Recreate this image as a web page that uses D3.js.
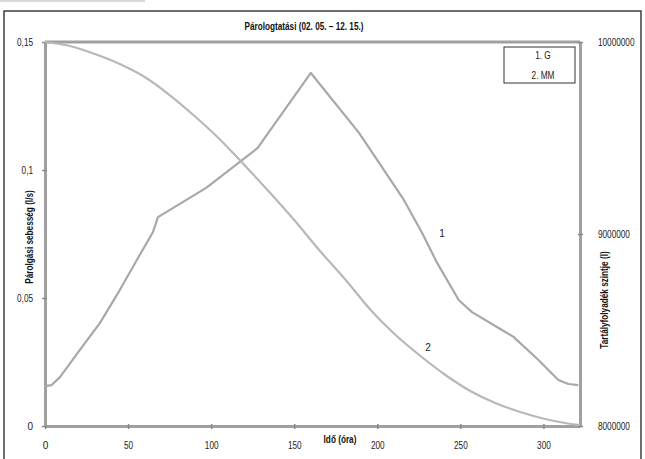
<!DOCTYPE html>
<html>
<head>
<meta charset="utf-8">
<script src="https://cdn.jsdelivr.net/npm/d3@7"></script>
<style>
  body { margin: 0; background: #fff; }
  svg { font-family: "Liberation Sans", Arial, sans-serif; }
</style>
</head>
<body>
<div id="chart"></div>
<script>
// data
const hours1 = [0, 4, 9, 21, 33, 45, 57, 65, 68, 97, 128, 160, 189, 216, 227, 236, 249, 257, 273, 282, 297, 309, 315, 321];
const rate = [0.0156, 0.016, 0.0191, 0.0297, 0.0402, 0.0531, 0.0668, 0.0758, 0.0816, 0.093, 0.1086, 0.1379, 0.1145, 0.0883, 0.0754, 0.0637, 0.0492, 0.0445, 0.0383, 0.0348, 0.0258, 0.018, 0.0164, 0.016];
const hours2 = [0, 15, 30, 45, 60, 75, 90, 105, 120, 135, 150, 165, 181, 196, 211, 226, 241, 256, 271, 286, 301, 313, 322];
const level = [10000000, 9979200, 9937500, 9885400, 9817700, 9723900, 9614600, 9494800, 9359400, 9218800, 9072900, 8916700, 8760400, 8604200, 8474000, 8364600, 8265600, 8182300, 8119800, 8072900, 8036500, 8015600, 8005200];
const xTicks = [0, 50, 100, 150, 200, 250, 300];
const leftTicks = [0, 0.05, 0.1, 0.15];
const rightTicks = [8000000, 9000000, 10000000];
const legendLabels = ["1. G", "2. MM"];

const width = 645, height = 459;
const margin = {left: 45, right: 65, top: 42, bottom: 33};

const svg = d3.select("#chart").append("svg")
    .attr("width", width)
    .attr("height", height);

// scanned page bits: faint line at top, frame
svg.append("line")
    .attr("x1", 0).attr("x2", 145).attr("y1", 1).attr("y2", 1)
    .attr("stroke", "#ccc").attr("stroke-width", 1.5);
svg.append("rect")
    .attr("x", 4).attr("y", 11)
    .attr("width", 637).attr("height", 460)
    .attr("fill", "none").attr("stroke", "#222").attr("stroke-width", 1.3);

const x = d3.scaleLinear().domain([0, 322]).range([margin.left, width - margin.right]);
const yL = d3.scaleLinear().domain([0, 0.15]).range([height - margin.bottom, margin.top]);
const yR = d3.scaleLinear().domain([8000000, 10000000]).range([height - margin.bottom, margin.top]);

const huFmt = d3.formatLocale({decimal: ",", thousands: "", grouping: [3], currency: ["", ""]}).format("~g");

const axisColor = "#a0a0a0";

function styleAxis(g) {
    g.select(".domain").attr("stroke", axisColor).attr("stroke-width", 3);
    g.selectAll(".tick line").attr("stroke", "#888").attr("stroke-width", 1.5);
    g.selectAll(".tick text").attr("fill", "#222").style("font-size", "10px");
}

// top border line of plot
svg.append("line")
    .attr("x1", margin.left).attr("x2", width - margin.right)
    .attr("y1", margin.top).attr("y2", margin.top)
    .attr("stroke", axisColor).attr("stroke-width", 3);

const gx = svg.append("g")
    .attr("transform", `translate(0,${height - margin.bottom})`)
    .call(d3.axisBottom(x).tickValues(xTicks).tickSizeInner(3).tickSizeOuter(0).tickPadding(13))
    .call(styleAxis);
gx.selectAll(".tick line").attr("y1", -2);

const gl = svg.append("g")
    .attr("transform", `translate(${margin.left},0)`)
    .call(d3.axisLeft(yL).tickValues(leftTicks).tickFormat(huFmt).tickSizeInner(3).tickSizeOuter(0).tickPadding(9))
    .call(styleAxis);
gl.selectAll(".tick line").attr("x1", 2);

const gr = svg.append("g")
    .attr("transform", `translate(${width - margin.right},0)`)
    .call(d3.axisRight(yR).tickValues(rightTicks).tickFormat(d3.format("d")).tickSizeInner(3).tickSizeOuter(0).tickPadding(15))
    .call(styleAxis);
gr.selectAll(".tick line").attr("x1", -2);

// series
const line1 = d3.line()
    .x((d, i) => x(hours1[i]))
    .y(d => yL(d));
const line2 = d3.line()
    .x((d, i) => x(hours2[i]))
    .y(d => yR(d))
    .curve(d3.curveMonotoneX);

svg.append("path")
    .attr("d", line1(rate))
    .attr("fill", "none")
    .attr("stroke", "#a8a8a8")
    .attr("stroke-width", 2.2)
    .attr("stroke-linejoin", "round");
svg.append("path")
    .attr("d", line2(level))
    .attr("fill", "none")
    .attr("stroke", "#b8b8b8")
    .attr("stroke-width", 2.2);

// curve numbers
svg.append("text").attr("x", 442).attr("y", 237)
    .attr("text-anchor", "middle").style("font-size", "10px").attr("fill", "#222").text("1");
svg.append("text").attr("x", 428).attr("y", 351)
    .attr("text-anchor", "middle").style("font-size", "10px").attr("fill", "#222").text("2");

// titles
svg.append("text")
    .attr("x", 304).attr("y", 30)
    .attr("text-anchor", "middle")
    .style("font-size", "10px").style("font-weight", "bold")
    .attr("fill", "#111")
    .text("Párologtatási (02. 05. – 12. 15.)");

svg.append("text")
    .attr("x", 340).attr("y", 443)
    .attr("text-anchor", "middle")
    .style("font-size", "10px").style("font-weight", "bold")
    .attr("fill", "#111")
    .text("Idő (óra)");

svg.append("text")
    .attr("transform", "translate(33,237) rotate(-90)")
    .attr("text-anchor", "middle")
    .style("font-size", "10px").style("font-weight", "bold")
    .attr("fill", "#111")
    .text("Párolgási sebesség (l/s)");

svg.append("text")
    .attr("transform", "translate(608,300) rotate(-90)")
    .attr("text-anchor", "middle")
    .style("font-size", "10px").style("font-weight", "bold")
    .attr("fill", "#111")
    .text("Tartályfolyadék szintje  (l)");

// legend box
const legend = svg.append("g");
legend.append("rect")
    .attr("x", 504).attr("y", 47)
    .attr("width", 71).attr("height", 36)
    .attr("fill", "#fff").attr("stroke", "#333").attr("stroke-width", 1);
legend.selectAll("text")
    .data(legendLabels)
    .join("text")
    .attr("x", 543)
    .attr("y", (d, i) => 59 + i * 20)
    .attr("text-anchor", "middle")
    .style("font-size", "10px")
    .attr("fill", "#222")
    .text(d => d);

// the original uses a narrow face; squeeze the text to match
svg.selectAll("text").each(function() {
    const w = this.getComputedTextLength();
    if (w > 8) {
        d3.select(this)
            .attr("textLength", w * 0.82)
            .attr("lengthAdjust", "spacingAndGlyphs");
    }
});
</script>
</body>
</html>
